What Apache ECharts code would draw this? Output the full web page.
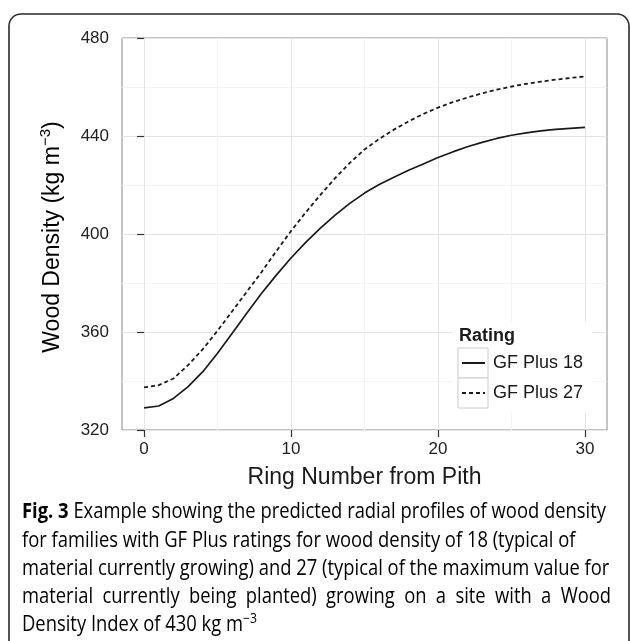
<!DOCTYPE html>
<html>
<head>
<meta charset="utf-8">
<script src="https://cdn.jsdelivr.net/npm/echarts@6/dist/echarts.min.js"></script>
<style>
  html, body { margin: 0; padding: 0; background: #fff; }
  #main { width: 630px; height: 641px; }
</style>
</head>
<body>
<div id="main"></div>
<script>
// ring number from pith
const rings = [0, 1, 2, 3, 4, 5, 6, 7, 8, 9, 10, 11, 12, 13, 14, 15, 16, 17, 18, 19, 20, 21, 22, 23, 24, 25, 26, 27, 28, 29, 30];
// predicted wood density (kg m-3)
const gfPlus18 = [329.0, 329.8, 332.9, 337.7, 343.8, 351.3, 359.5, 367.8, 375.8, 383.2, 390.2, 396.6, 402.4, 407.7, 412.5, 416.7, 420.2, 423.2, 426.0, 428.6, 431.2, 433.5, 435.6, 437.4, 439.0, 440.3, 441.3, 442.1, 442.7, 443.1, 443.5];
const gfPlus27 = [337.4, 338.3, 341.0, 346.5, 353.0, 360.5, 368.5, 376.5, 384.5, 393.0, 401.2, 408.8, 416.0, 422.8, 429.0, 434.5, 438.8, 442.6, 446.0, 449.0, 451.6, 453.8, 455.7, 457.4, 458.9, 460.2, 461.3, 462.2, 463.0, 463.7, 464.3];
const seriesNames = ['GF Plus 18', 'GF Plus 27'];
const xTicks = [0, 10, 20, 30];
const xMinorTicks = [5, 15, 25];

const captionLines = [
  [['b', 'Fig. 3'], ['n', ' Example showing the predicted radial profiles of wood density']],
  [['n', 'for families with GF Plus ratings for wood density of 18 (typical of']],
  [['n', 'material currently growing) and 27 (typical of the maximum value for']],
  [['n', 'material currently being planted) growing on a site with a Wood']],
  [['n', 'Density Index of 430 kg m'], ['s', '\u22123']]
];

const plotFont = '"Liberation Sans", Arial, sans-serif';
const capFont = '"Open Sans", sans-serif';
const capSize = 21;
const ink = '#1a1a1a';

// measure caption text so it can be squeezed to the column width
const ctx2d = document.createElement('canvas').getContext('2d');
function tokWidth(t) {
  if (t[0] === 's') { ctx2d.font = '14px ' + capFont; }
  else ctx2d.font = (t[0] === 'b' ? 'bold ' : '') + capSize + 'px ' + capFont;
  return ctx2d.measureText(t[1]).width;
}
const capRich = {
  n: { fontFamily: capFont, fontSize: capSize, color: '#2a2a2a', lineHeight: 26 },
  b: { fontFamily: capFont, fontSize: capSize, fontWeight: 'bold', color: '#2a2a2a', lineHeight: 26 },
  s: { fontFamily: capFont, fontSize: 14, color: '#2a2a2a', verticalAlign: 'top', lineHeight: 14 }
};
const capLeft = 22;
const capY = [512, 541, 569, 597, 625];
const line1W = captionLines[0].reduce((a, t) => a + tokWidth(t), 0);
const capScale = 584 / line1W;

const captionGraphics = [];
captionLines.forEach((tokens, i) => {
  if (i === 3) {
    // justified line
    const words = tokens[0][1].split(' ');
    const ww = words.map(w => tokWidth(['n', w]) * capScale);
    const gap = (589 - ww.reduce((a, b) => a + b, 0)) / (words.length - 1);
    let x = capLeft;
    words.forEach((w, k) => {
      captionGraphics.push({
        type: 'text', x: x, y: capY[i], scaleX: capScale, z: 10,
        style: { text: '{n|' + w + '}', rich: capRich, x: 0, y: 0, textVerticalAlign: 'middle' }
      });
      x += ww[k] + gap;
    });
  } else {
    captionGraphics.push({
      type: 'text', x: capLeft, y: capY[i], scaleX: capScale, z: 10,
      style: {
        text: tokens.map(t => '{' + t[0] + '|' + t[1] + '}').join(''),
        rich: capRich, x: 0, y: 0, textVerticalAlign: 'middle'
      }
    });
  }
});

const chart = echarts.init(document.getElementById('main'));
const option = {
  animation: false,
  backgroundColor: '#fff',
  grid: { left: 122, top: 38, width: 485, height: 392, show: true, borderColor: '#8a8a8a', borderWidth: 1 },
  xAxis: [{
    type: 'value', min: -1.5, max: 31.5,
    axisLine: { show: false },
    axisTick: { show: true, length: 7, customValues: xTicks, lineStyle: { color: '#333', width: 1.2 } },
    axisLabel: { customValues: xTicks, margin: 11, fontSize: 17, color: '#222', fontFamily: plotFont },
    splitLine: { show: true, lineStyle: { color: '#e4e4e4', width: 1 } }
  }, {
    type: 'value', min: -1.5, max: 31.5, position: 'bottom',
    axisLine: { show: false },
    axisTick: { show: false, customValues: xMinorTicks },
    axisLabel: { show: false, customValues: xMinorTicks },
    splitLine: { show: true, lineStyle: { color: '#f3f3f3', width: 1 } }
  }],
  yAxis: {
    type: 'value', min: 320, max: 480, interval: 40,
    axisLine: { show: false },
    axisTick: { show: true, length: 7, lineStyle: { color: '#333', width: 1.2 } },
    axisLabel: { margin: 13, fontSize: 17, color: '#222', fontFamily: plotFont },
    splitLine: { show: true, lineStyle: { color: '#e4e4e4', width: 1 } },
    minorTick: { show: false, splitNumber: 2 },
    minorSplitLine: { show: true, lineStyle: { color: '#f3f3f3', width: 1 } }
  },
  legend: {
    data: seriesNames,
    orient: 'vertical',
    left: 461, top: 351,
    padding: 0, itemGap: 6,
    itemWidth: 23, itemHeight: 30,
    itemStyle: { opacity: 0 },
    z: 20,
    textStyle: { fontSize: 18, fontFamily: plotFont, color: ink, padding: [0, 0, 0, 3] }
  },
  series: [{
    name: seriesNames[0], type: 'line', symbol: 'none',
    data: rings.map((r, i) => [r, gfPlus18[i]]),
    lineStyle: { color: ink, width: 1.7, type: 'solid' },
    itemStyle: { color: ink }
  }, {
    name: seriesNames[1], type: 'line', symbol: 'none',
    data: rings.map((r, i) => [r, gfPlus27[i]]),
    lineStyle: { color: ink, width: 1.8, type: [4, 3] },
    itemStyle: { color: ink }
  }],
  graphic: [
    { type: 'rect', z: 1, shape: { x: 9, y: 14, width: 620, height: 700, r: 12 },
      style: { fill: 'none', stroke: '#2a2a2a', lineWidth: 1.6 } },
    // legend background and key boxes
    { type: 'rect', z: 10, shape: { x: 452, y: 322, width: 140, height: 91 }, style: { fill: '#fff' } },
    { type: 'rect', z: 11, shape: { x: 458, y: 348, width: 30, height: 30 }, style: { fill: '#fff', stroke: '#cccccc', lineWidth: 1 } },
    { type: 'rect', z: 11, shape: { x: 458, y: 378, width: 30, height: 30 }, style: { fill: '#fff', stroke: '#cccccc', lineWidth: 1 } },
    { type: 'text', z: 11, x: 459, y: 336,
      style: { text: 'Rating', fontFamily: plotFont, fontSize: 18, fontWeight: 'bold', fill: ink, textVerticalAlign: 'middle' } },
    // axis titles
    { type: 'text', z: 10, x: 364.5, y: 478,
      style: { text: 'Ring Number from Pith', fontFamily: plotFont, fontSize: 23, fill: ink, textAlign: 'center', textVerticalAlign: 'middle' } },
    { type: 'text', z: 10, x: 53, y: 237, rotation: Math.PI / 2,
      style: {
        text: '{a|Wood Density (kg m}{s|\u22123}{a|)}',
        rich: {
          a: { fontFamily: plotFont, fontSize: 23, color: ink, lineHeight: 30 },
          s: { fontFamily: plotFont, fontSize: 15, color: ink, verticalAlign: 'top', lineHeight: 15 }
        },
        textAlign: 'center', textVerticalAlign: 'middle'
      } }
  ].concat(captionGraphics)
};
chart.setOption(option);
</script>
</body>
</html>
